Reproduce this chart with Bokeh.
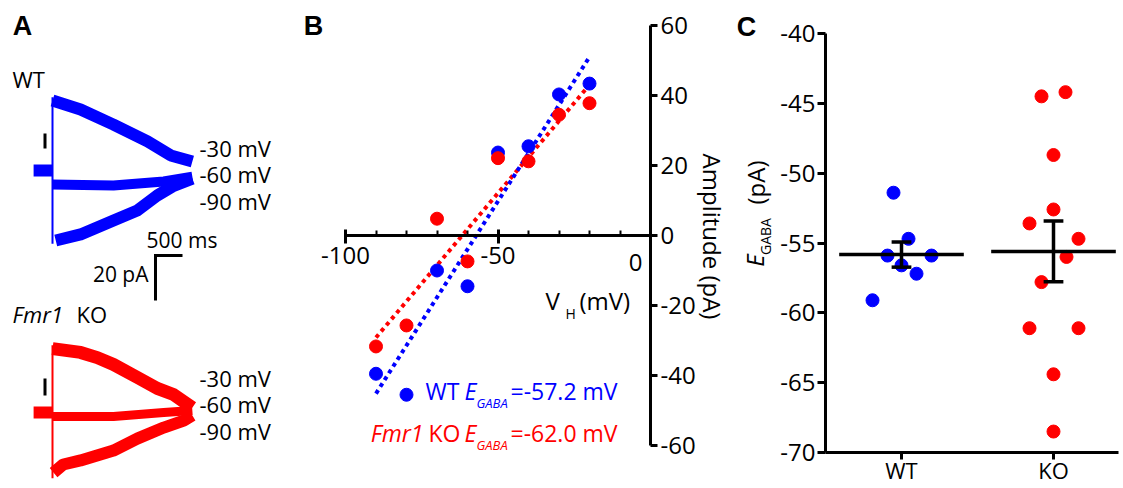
import numpy as np
from bokeh.plotting import figure
from bokeh.models import Range1d, LinearAxis, FixedTicker, Label
from bokeh.layouts import row
from bokeh.embed import file_html
from bokeh.resources import INLINE

# ---------------- data ----------------
# Panel A: current traces (time in ms from the voltage step, current in pA)
wt_base_t = [-350, 0]
wt_base_i = [0.0, 0.0]
wt_m30_t = [0, 520, 1130, 1760, 2190, 2590]
wt_m30_i = [31.1, 27.1, 20.4, 12.9, 6.7, 4.0]
wt_m60_t = [0, 1130, 2060, 2590]
wt_m60_i = [-6.2, -6.7, -4.9, -2.7]
wt_m90_t = [60, 520, 1130, 1570, 1940, 2220, 2590]
wt_m90_i = [-31.1, -28.4, -22.2, -17.8, -11.1, -7.1, -3.6]

ko_base_t = [-350, 0]
ko_base_i = [0.0, 0.0]
ko_m30_t = [0, 520, 830, 1130, 1570, 1940, 2240, 2590]
ko_m30_i = [28.4, 26.7, 24.4, 21.3, 15.6, 10.7, 8.0, 2.2]
ko_m60_t = [0, 1130, 2060, 2590]
ko_m60_i = [-1.8, -1.8, 0.0, 0.9]
ko_m90_t = [20, 200, 520, 1130, 1570, 2060, 2430, 2590]
ko_m90_i = [-26.7, -23.1, -21.3, -16.9, -11.6, -6.7, -3.6, -1.3]
step_labels = ["-30 mV", "-60 mV", "-90 mV"]
scale_ms = 500
scale_pa = 20

# Panel B: I-V relation
vh = [-90, -80, -70, -60, -50, -40, -30, -20]
wt_amp = [-39.5, -45.5, -10.0, -14.5, 23.7, 25.5, 40.3, 43.4]
ko_amp = [-31.7, -25.7, 4.8, -7.4, 22.1, 21.2, 34.5, 37.8]
wt_egaba_text = "=-57.2 mV"
ko_egaba_text = "=-62.0 mV"
b_xticks = [-100, -50, 0]
b_yticks = [-60, -40, -20, 0, 20, 40, 60]

# Panel C: E_GABA per cell
groups = ["WT", "KO"]
wt_egaba = [-51.4, -54.7, -55.9, -55.9, -56.6, -57.2, -59.1]
ko_egaba = [-44.5, -44.2, -48.7, -52.6, -53.6, -54.7, -56.0, -57.8, -61.1, -61.1, -64.4, -68.5]
c_yticks = [-70, -65, -60, -55, -50, -45, -40]

# ---------------- style / layout ----------------
FONT = "Open Sans"
BOLD = "Liberation Sans"
BLUE = "#0000ff"
RED = "#ff0000"
H = 486
wt_jit_px = [-8, 7, -14, 30, 0, 15, -29]
ko_jit_px = [-12, 12, 0, 0, -24, 25, 13, -12, -24, 25, 0, 0]


def a_x(px):
    return (px - 52) * 500.0 / 27.0


def a_y(py):
    return (170 - py) * 20.0 / 45.0


def b_x(px):
    return (px - 650) * 100.0 / 305.0


def b_y(py):
    return (235 - py) * 120.0 / 420.0


def c_x(px):
    return 1 + (px - 901) / 152.0


def c_y(py):
    return -40 - (py - 33) * 30.0 / 419.0


def make_fig(x0, x1, fx, fy):
    p = figure(width=x1 - x0, height=H, x_range=Range1d(fx(x0), fx(x1)),
               y_range=Range1d(fy(H), fy(0)),
               x_axis_location=None, y_axis_location=None, toolbar_location=None,
               output_backend="svg", min_border_left=0, min_border_right=0,
               min_border_top=0, min_border_bottom=0, title=None)
    p.outline_line_color = None
    p.xgrid.visible = False
    p.ygrid.visible = False
    p.background_fill_color = "white"
    p.border_fill_color = "white"
    return p


def lab(p, x, y, text, size, color="black", style="normal", align="left",
        baseline="middle", angle=0.0, font=FONT):
    p.add_layout(Label(x=x, y=y, text=text, text_font=font, text_font_size=f"{size}px",
                       text_color=color, text_font_style=style, text_align=align,
                       text_baseline=baseline, angle=angle))


def style_axis(ax, tick_out, tick_in, standoff, size=24):
    ax.axis_line_width = 3
    ax.axis_line_color = "black"
    ax.major_tick_line_width = 3
    ax.major_tick_line_color = "black"
    ax.major_tick_out = tick_out
    ax.major_tick_in = tick_in
    ax.minor_tick_line_width = 2
    ax.minor_tick_line_color = "black"
    ax.major_label_text_font = FONT
    ax.major_label_text_font_size = f"{size}px"
    ax.major_label_text_color = "black"
    ax.major_label_standoff = standoff


def hyphen_labels(ticks):
    return {t: str(t) for t in ticks}


# ---------------- Panel A ----------------
pA = make_fig(0, 300, a_x, a_y)
KO_OFF = a_y(412)  # vertical offset of the KO traces

for off, col, tr in [
    (0.0, BLUE, [(wt_base_t, wt_base_i, 12), (wt_m30_t, wt_m30_i, 12),
                 (wt_m60_t, wt_m60_i, 10), (wt_m90_t, wt_m90_i, 12)]),
    (KO_OFF, RED, [(ko_base_t, ko_base_i, 12), (ko_m30_t, ko_m30_i, 13),
                   (ko_m60_t, ko_m60_i, 9), (ko_m90_t, ko_m90_i, 12)]),
]:
    for t, i, w in tr:
        pA.line(t, [v + off for v in i], line_width=w, color=col,
                line_join="round", line_cap="butt")
wt_tr = [wt_m30_i[0], wt_m90_i[0]]
ko_tr = [ko_m30_i[0], ko_m90_i[0]]
pA.segment(x0=[0], y0=[max(wt_tr) + 1.5], x1=[0], y1=[min(wt_tr) - 1.5], line_width=2, color=BLUE)
pA.segment(x0=[0], y0=[max(ko_tr) + 1.5 + KO_OFF], x1=[0], y1=[min(ko_tr) - 2.5 + KO_OFF],
           line_width=2, color=RED)
# small stimulus markers
pA.segment(x0=[a_x(44.5)] * 2, y0=[a_y(133), a_y(378)], x1=[a_x(44.5)] * 2,
           y1=[a_y(148), a_y(395)], line_width=3, color="black")
# scale bar
sx, sy = a_x(155), a_y(255)
pA.line([sx + scale_ms, sx, sx], [sy, sy, sy - scale_pa], line_width=3, color="black",
        line_join="miter")
lab(pA, a_x(146), a_y(239), f"{scale_ms} ms", 21)
lab(pA, a_x(148), a_y(273), f"{scale_pa} pA", 21, align="right")

lab(pA, a_x(22), a_y(25), "A", 27, style="bold", align="center", font=BOLD)
lab(pA, a_x(12), a_y(78), "WT", 22)
lab(pA, a_x(12), a_y(313), "Fmr1", 22, style="italic")
lab(pA, a_x(76), a_y(313), "KO", 22)
for txt, yw, yk in zip(step_labels, [147, 173, 200], [377, 403, 430]):
    lab(pA, a_x(199), a_y(yw), txt, 22)
    lab(pA, a_x(199), a_y(yk), txt, 22)

# ---------------- Panel B ----------------
pB = make_fig(300, 735, b_x, b_y)
b_xlab = hyphen_labels(b_xticks)
b_xlab[0] = ""
xa = LinearAxis(fixed_location=0, bounds=(-100, 0),
                ticker=FixedTicker(ticks=b_xticks, minor_ticks=list(range(-100, 1, 10))),
                major_label_overrides=b_xlab)
style_axis(xa, 8, 6, 3)
xa.minor_tick_in = 5
xa.minor_tick_out = 0
pB.add_layout(xa, "below")
ya = LinearAxis(fixed_location=0, bounds=(-60, 60), ticker=FixedTicker(ticks=b_yticks),
                major_label_overrides=hyphen_labels(b_yticks))
style_axis(ya, 7, 0, 3)
ya.minor_tick_in = 0
ya.minor_tick_out = 0
pB.add_layout(ya, "right")

fit_x = np.array([min(vh), max(vh)], dtype=float)
for amp, col in [(ko_amp, RED), (wt_amp, BLUE)]:
    k, c = np.polyfit(vh, amp, 1)
    pB.line(fit_x, k * fit_x + c, line_width=4, color=col, line_dash="4 4")
pB.scatter(vh, wt_amp, size=13, color=BLUE)
pB.scatter(vh, ko_amp, size=13, color=RED)

lab(pB, b_x(313), b_y(25), "B", 27, style="bold", align="center", font=BOLD)
lab(pB, b_x(635), b_y(262), "0", 24, align="center")
lab(pB, b_x(545), b_y(300), "V", 24)
lab(pB, b_x(565), b_y(313), "H", 14)
lab(pB, b_x(579), b_y(300), "(mV)", 24)
lab(pB, b_x(712), b_y(236), "Amplitude (pA)", 24, align="center", angle=-np.pi / 2)
# legend texts
lab(pB, b_x(425), b_y(390), "WT", 23, color=BLUE)
lab(pB, b_x(464), b_y(390), "E", 23, color=BLUE, style="italic")
lab(pB, b_x(476), b_y(402), "GABA", 13, color=BLUE, style="italic")
lab(pB, b_x(510), b_y(390), wt_egaba_text, 23, color=BLUE)
lab(pB, b_x(423), b_y(432), "Fmr1", 23, color=RED, style="italic", align="right")
lab(pB, b_x(460), b_y(432), "KO", 23, color=RED, align="right")
lab(pB, b_x(476), b_y(432), "E", 23, color=RED, style="italic", align="right")
lab(pB, b_x(476), b_y(444), "GABA", 13, color=RED, style="italic")
lab(pB, b_x(510), b_y(432), ko_egaba_text, 23, color=RED)

# ---------------- Panel C ----------------
pC = make_fig(735, 1121, c_x, c_y)
cxa = LinearAxis(fixed_location=-70, bounds=(c_x(825), c_x(1118)),
                 ticker=FixedTicker(ticks=[1, 2]),
                 major_label_overrides={1: groups[0], 2: groups[1]})
style_axis(cxa, 7, 0, -5, size=22)
pC.add_layout(cxa, "below")
cya = LinearAxis(fixed_location=c_x(825), bounds=(-70, -40), ticker=FixedTicker(ticks=c_yticks),
                 major_label_overrides=hyphen_labels(c_yticks))
style_axis(cya, 8, 0, 2)
pC.add_layout(cya, "left")

for gi, (vals, jit, col) in enumerate([(wt_egaba, wt_jit_px, BLUE), (ko_egaba, ko_jit_px, RED)]):
    cx = gi + 1
    xs = [cx + j / 152.0 for j in jit]
    pC.scatter(xs, vals, size=13, color=col)
    m = float(np.mean(vals))
    s = float(np.std(vals, ddof=1) / np.sqrt(len(vals)))
    pC.segment(x0=[cx - 0.41], y0=[m], x1=[cx + 0.41], y1=[m], line_width=3.5, color="black")
    pC.segment(x0=[cx], y0=[m - s], x1=[cx], y1=[m + s], line_width=3.5, color="black")
    pC.segment(x0=[cx - 0.065, cx - 0.065], y0=[m - s, m + s], x1=[cx + 0.065, cx + 0.065],
               y1=[m - s, m + s], line_width=3.5, color="black")

lab(pC, c_x(746), c_y(26), "C", 27, style="bold", align="center", font=BOLD)
lab(pC, c_x(754), c_y(260), "E", 24, style="italic", align="center", angle=np.pi / 2)
lab(pC, c_x(765), c_y(236), "GABA", 14, align="center", angle=np.pi / 2)
lab(pC, c_x(755), c_y(182), "(pA)", 24, align="center", angle=np.pi / 2)

layout = row(pA, pB, pC)
open("out.html", "w").write(file_html(layout, INLINE))
